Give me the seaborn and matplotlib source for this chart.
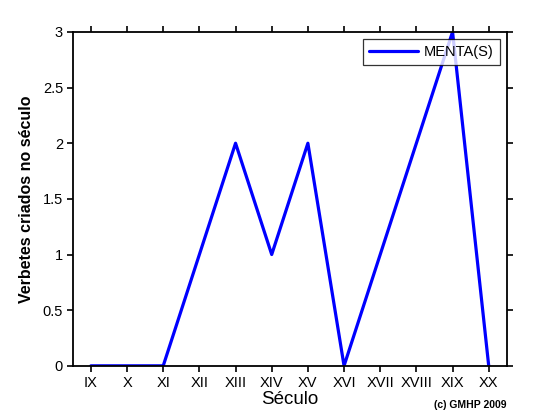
import matplotlib
matplotlib.use("Agg")
import matplotlib.pyplot as plt
import seaborn as sns
import pandas as pd

# data
seculos = ["IX", "X", "XI", "XII", "XIII", "XIV", "XV", "XVI", "XVII", "XVIII", "XIX", "XX"]
verbetes = [0, 0, 0, 1, 2, 1, 2, 0, 1, 2, 3, 0]

df = pd.DataFrame({"pos": range(len(seculos)), "seculo": seculos, "verbetes": verbetes})

sns.set_style("white")
plt.rcParams["font.family"] = ["Liberation Sans", "DejaVu Sans"]
plt.rcParams["text.color"] = "black"
plt.rcParams["axes.labelcolor"] = "black"

fig = plt.figure(figsize=(5.6, 4.2), dpi=100)
ax = fig.add_axes([0.130, 0.129, 0.775, 0.795])

sns.lineplot(data=df, x="pos", y="verbetes", ax=ax, color="#0000ff",
             linewidth=2.3, label="MENTA(S)")

ax.set_xlim(-0.5, len(seculos) - 0.5)
ax.set_ylim(0, 3)
ax.set_xticks(df["pos"])
ax.set_xticklabels(seculos)
ax.set_yticks([0, 0.5, 1, 1.5, 2, 2.5, 3])
ax.set_yticklabels(["0", "0.5", "1", "1.5", "2", "2.5", "3"])

# matlab-like box with ticks on every side
for s in ax.spines.values():
    s.set_visible(True)
    s.set_color("black")
    s.set_linewidth(1.3)
ax.tick_params(axis="both", which="both", direction="out", length=4, width=1.2,
               labelsize=10.5, color="black", labelcolor="black",
               top=True, right=True, bottom=True, left=True,
               labeltop=False, labelright=False, pad=3)

ax.set_xlabel("Século", fontsize=13.5, labelpad=1)
ax.set_ylabel("Verbetes criados no século", fontsize=11.5, fontweight="bold", labelpad=6)

leg = ax.legend(loc="upper right", frameon=True, fancybox=False, fontsize=10.5,
                handlelength=3.4, borderaxespad=0.5, borderpad=0.4, handletextpad=0.4)
leg.get_frame().set_edgecolor("black")
leg.get_frame().set_linewidth(0.9)
for t in leg.get_texts():
    t.set_color("black")

fig.text(0.905, 0.035, "(c) GMHP 2009", fontsize=7.5, fontweight="bold", ha="right", va="center")

fig.savefig("out.png", dpi=100)
